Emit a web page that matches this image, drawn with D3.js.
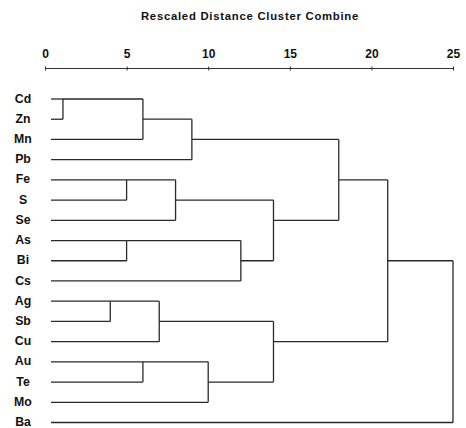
<!DOCTYPE html>
<html><head><meta charset="utf-8">
<script src="https://cdn.jsdelivr.net/npm/d3@7"></script>
<style>body{margin:0;background:#fff}svg{display:block}</style>
</head><body>
<script>
const leaves = ["Cd","Zn","Mn","Pb","Fe","S","Se","As","Bi","Cs","Ag","Sb","Cu","Au","Te","Mo","Ba"];
// cluster Ck is the k-th merge (1-based)
const mergeLeft  = ["Cd","C1","C2","Fe","C4","As","C6","C5","C3","Ag","C10","Au","C12","C11","C9","C15"];
const mergeRight = ["Zn","Mn","Pb","S","Se","Bi","Cs","C7","C8","Sb","Cu","Te","Mo","C13","C14","Ba"];
const mergeHeight = [1.1,6,9,5,8,5,12,14,18,4,7,6,10,14,21,25];
const ticks = [0,5,10,15,20,25];

const W = 466, H = 428;
const svg = d3.select("body").append("svg").attr("width", W).attr("height", H);
const x = d3.scaleLinear().domain([0,25]).range([45,453]);
const rowY = d3.scaleLinear().domain([0,16]).range([99,422.5]);
const font = "Liberation Sans, Arial, sans-serif";

svg.append("text").attr("x",250).attr("y",20).attr("text-anchor","middle")
  .attr("font-family",font).attr("font-weight","bold")
  .attr("font-size",11.3).attr("letter-spacing",0.75).attr("fill","#111")
  .text("Rescaled Distance Cluster Combine");

const axis = d3.axisTop(x).tickValues(ticks).tickSize(2).tickPadding(9);
const ag = svg.append("g").attr("transform","translate(0,68.5)").call(axis);
ag.select(".domain").attr("d","M45,0H453").attr("stroke","#333");
ag.selectAll(".tick line").attr("y1",-2).attr("y2",2).attr("stroke","#333");
ag.selectAll(".tick text").attr("font-family",font)
  .attr("font-weight","bold").attr("font-size",12).attr("fill","#111");

svg.append("g").selectAll("text").data(leaves).join("text")
  .attr("x",23).attr("y",(d,i)=>rowY(i)+3.6).attr("text-anchor","middle")
  .attr("font-family",font).attr("font-weight","bold")
  .attr("font-size",12.3).attr("fill","#111").text(d=>d);

const node = {};
leaves.forEach((l,i)=>node[l]={row:i, xs:x(0)+6});
const g = svg.append("g").attr("stroke","#2a2a2a").attr("stroke-width",1.3).attr("fill","none");
mergeHeight.forEach((h,k)=>{
  const a = node[mergeLeft[k]], b = node[mergeRight[k]];
  const xm = x(h);
  g.append("line").attr("x1",a.xs).attr("x2",xm).attr("y1",rowY(a.row)).attr("y2",rowY(a.row));
  g.append("line").attr("x1",b.xs).attr("x2",xm).attr("y1",rowY(b.row)).attr("y2",rowY(b.row));
  g.append("line").attr("x1",xm).attr("x2",xm).attr("y1",rowY(a.row)).attr("y2",rowY(b.row));
  node["C"+(k+1)] = {row: Math.floor((a.row+b.row)/2), xs: xm};
});
</script>
</body></html>
